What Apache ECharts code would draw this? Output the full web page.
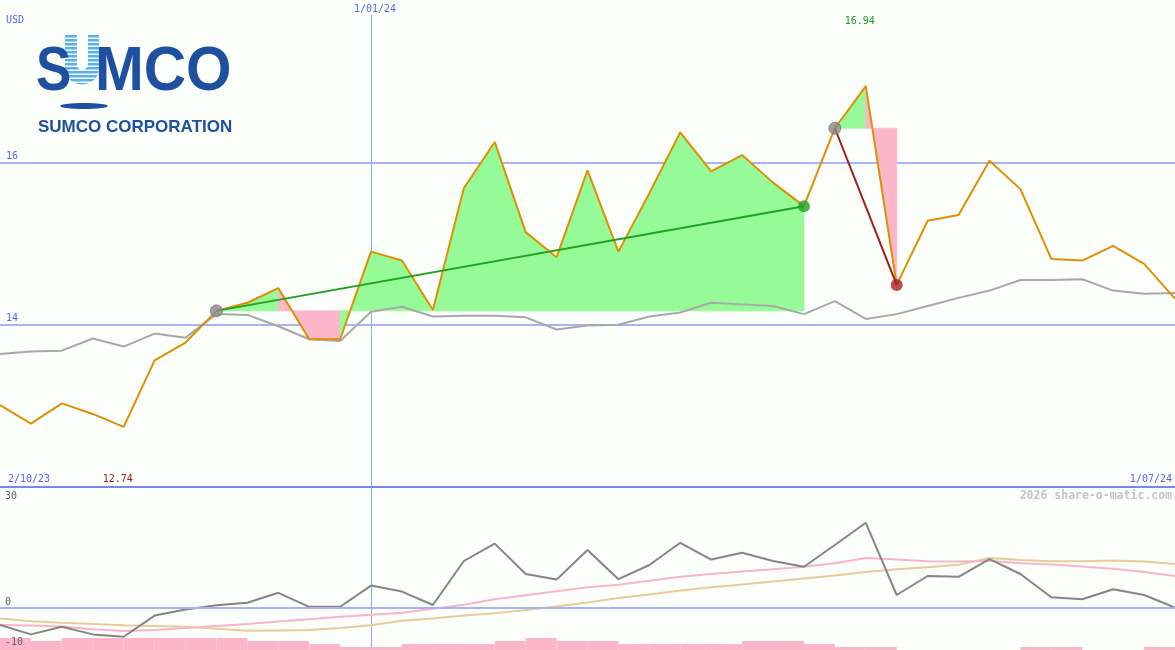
<!DOCTYPE html>
<html><head><meta charset="utf-8">
<script src="https://cdn.jsdelivr.net/npm/echarts@6/dist/echarts.min.js"></script>
<style>html,body{margin:0;padding:0;background:#fcfefc}#c{width:1175px;height:650px}</style>
</head><body><div id="c"></div>
<script>
// ---- data ----
const categories = ['9/10/23','16/10/23','23/10/23','30/10/23','6/11/23','13/11/23','20/11/23','27/11/23','4/12/23','11/12/23','18/12/23','25/12/23','1/01/24','8/01/24','15/01/24','22/01/24','29/01/24','5/02/24','12/02/24','19/02/24','26/02/24','4/03/24','11/03/24','18/03/24','25/03/24','1/04/24','8/04/24','15/04/24','22/04/24','29/04/24','6/05/24','13/05/24','20/05/24','27/05/24','3/06/24','10/06/24','17/06/24','24/06/24','1/07/24'];
const price = [13.01,12.78,13.03,12.90,12.74,13.56,13.78,14.17,14.27,14.45,13.82,13.82,14.90,14.79,14.18,15.68,16.25,15.14,14.83,15.90,14.90,15.62,16.37,15.89,16.09,15.75,15.46,16.42,16.94,14.49,15.28,15.35,16.02,15.67,14.81,14.79,14.97,14.75,14.32];
const benchmark = [13.64,13.67,13.68,13.83,13.73,13.89,13.84,14.13,14.12,13.98,13.82,13.80,14.16,14.22,14.10,14.11,14.11,14.09,13.94,13.99,14.00,14.10,14.15,14.27,14.25,14.23,14.13,14.29,14.07,14.13,14.23,14.33,14.42,14.55,14.55,14.56,14.42,14.38,14.39];
const momentum = [-4.25,-6.6,-4.7,-6.6,-7.2,-1.9,-0.4,0.7,1.3,3.8,0.3,0.3,5.6,4.1,0.75,11.75,16.1,8.5,7.1,14.5,7.2,10.75,16.3,12.1,13.8,11.75,10.3,15.75,21.3,3.25,8.0,7.8,12.2,8.5,2.7,2.2,4.7,3.25,0.1];
const avgFast = [-4.25,-4.4,-4.6,-5.3,-5.75,-5.5,-5.0,-4.5,-4.0,-3.4,-2.8,-2.2,-1.7,-1.2,-0.2,0.8,2.2,3.2,4.2,5.2,5.8,6.8,7.8,8.5,9.1,9.7,10.3,11.2,12.5,12.1,11.7,11.6,11.8,11.2,10.9,10.4,9.8,9.0,8.0];
const avgSlow = [-2.6,-3.3,-3.7,-4.0,-4.3,-4.5,-4.7,-5.2,-5.7,-5.6,-5.5,-5.0,-4.3,-3.2,-2.6,-1.9,-1.3,-0.5,0.4,1.4,2.5,3.4,4.4,5.2,5.9,6.6,7.4,8.1,9.0,9.7,10.2,10.8,12.5,12.0,11.7,11.7,11.9,11.6,11.0];
const volume = [4,3,4,4,4,4,4,4,3,3,2,1,1,2,2,2,3,4,3,3,2,2,2,2,3,3,2,1,1,0,0,0,0,1,1,0,0,1];
const tradeEntry = [7, 27];
const tradeExit = [26, 29];
const priceTicks = [14, 16];
const lowerTicks = [-10, 0, 30];
const markerDate = '1/01/24';
const startLabel = '2/10/23';
const endLabel = '1/07/24';

// ---- styles ----
const BLUE_TXT = '#5566ee';
const GRID_C = '#a6b3f4';
const FILL_G = '#96fa96';
const FILL_P = '#fbb6c9';
const NONE = 'rgba(0,0,0,0)';
const MONO = '"DejaVu Sans Mono", monospace';

const fillData = [];
tradeEntry.forEach((e, t) => {
  for (let i = e; i < tradeExit[t]; i++) fillData.push([i, price[i], price[i + 1], price[e]]);
});

const chart = echarts.init(document.getElementById('c'), null, {renderer: 'canvas'});

const series = [
  {
    type: 'custom', xAxisIndex: 0, yAxisIndex: 0, z: 1, silent: true,
    data: fillData, encode: {x: 0, y: [1, 2, 3]},
    renderItem: function (params, api) {
      const i = api.value(0), p0 = api.value(1), p1 = api.value(2), b = api.value(3);
      const pts = [api.coord([i, b]), api.coord([i, p0]), api.coord([i + 1, p1]), api.coord([i + 1, b])];
      const c = p1 >= b ? FILL_G : FILL_P;
      return {type: 'polygon', shape: {points: pts}, style: {fill: c, stroke: c, lineWidth: 0.8}};
    }
  },
  {
    type: 'line', xAxisIndex: 0, yAxisIndex: 0, z: 2, data: benchmark, showSymbol: false, silent: true,
    lineStyle: {color: '#a8a8a8', width: 2},
    markLine: {
      silent: true, symbol: ['none', 'none'], animation: false, label: {show: false},
      lineStyle: {color: '#7886ee', width: 2, type: 'solid'},
      data: [{yAxis: 12}]
    }
  },
  {
    type: 'line', xAxisIndex: 0, yAxisIndex: 0, z: 3, data: price, showSymbol: false, silent: true,
    lineStyle: {color: '#de9000', width: 2}
  }
];
tradeEntry.forEach((e, t) => {
  const x = tradeExit[t];
  const win = price[x] >= price[e];
  series.push({
    type: 'line', xAxisIndex: 0, yAxisIndex: 0, z: 4, silent: true, showSymbol: false,
    data: [[e, price[e]], [x, price[x]]],
    lineStyle: {color: win ? '#23a023' : '#a01c1c', width: 2}
  });
  series.push({
    type: 'scatter', xAxisIndex: 0, yAxisIndex: 0, z: 5, silent: true,
    data: [[e, price[e]]], symbolSize: 12, itemStyle: {color: '#8a8a8a', borderColor: '#777', borderWidth: 1}
  });
  series.push({
    type: 'scatter', xAxisIndex: 0, yAxisIndex: 0, z: 5, silent: true,
    data: [[x, price[x]]], symbolSize: 12, itemStyle: {color: win ? '#22a022' : '#b02020'}
  });
});
series.push(
  {
    type: 'bar', xAxisIndex: 2, yAxisIndex: 3, data: volume, barWidth: '100%', barCategoryGap: 0, silent: true,
    itemStyle: {color: FILL_P}, z: 1
  },
  {
    type: 'line', xAxisIndex: 1, yAxisIndex: 1, data: avgSlow, showSymbol: false, silent: true, z: 2,
    lineStyle: {color: '#e6cc9a', width: 2}
  },
  {
    type: 'line', xAxisIndex: 1, yAxisIndex: 1, data: avgFast, showSymbol: false, silent: true, z: 2,
    lineStyle: {color: '#f8b4c8', width: 2}
  },
  {
    type: 'line', xAxisIndex: 1, yAxisIndex: 1, data: momentum, showSymbol: false, silent: true, z: 3,
    lineStyle: {color: '#858585', width: 2}
  }
);

const option = {
  animation: false,
  backgroundColor: '#fcfefc',
  grid: [
    {left: 0, right: 0, top: -2, height: 489},
    {left: 0, right: 0, top: 488, height: 160},
    {left: 0, right: 0, top: 488, height: 162}
  ],
  xAxis: [
    {type: 'category', gridIndex: 0, data: categories, boundaryGap: false, show: false},
    {type: 'category', gridIndex: 1, data: categories, boundaryGap: false, show: false},
    {type: 'category', gridIndex: 2, data: categories.slice(0, volume.length), boundaryGap: true, show: false}
  ],
  yAxis: [
    {
      type: 'value', gridIndex: 0, min: 12, max: 18, interval: 2,
      axisLine: {show: false}, axisTick: {show: false},
      splitLine: {show: true, lineStyle: {color: [NONE, GRID_C, GRID_C, NONE], width: 2}},
      axisLabel: {
        inside: true, margin: 6, verticalAlign: 'bottom', color: BLUE_TXT,
        fontFamily: MONO, fontSize: 10, padding: [0, 0, 1, 0],
        formatter: v => priceTicks.includes(v) ? String(v) : ''
      }
    },
    {
      type: 'value', gridIndex: 1, min: -10, max: 30, interval: 10, z: 20,
      axisLine: {show: false}, axisTick: {show: false},
      splitLine: {show: true, lineStyle: {color: [NONE, GRID_C, NONE, NONE, NONE], width: 2}},
      axisLabel: {
        inside: true, margin: 5, verticalAlign: 'bottom', color: '#606060',
        fontFamily: MONO, fontSize: 10, padding: [0, 0, 1, 0],
        formatter: v => (lowerTicks.includes(v) && v !== 30) ? String(v) : ''
      }
    },
    {
      type: 'value', gridIndex: 1, min: -10, max: 30, interval: 10, position: 'left', z: 20,
      axisLine: {show: false}, axisTick: {show: false}, splitLine: {show: false},
      axisLabel: {
        inside: true, margin: 5, verticalAlign: 'top', color: '#606060',
        fontFamily: MONO, fontSize: 10, padding: [3, 0, 0, 0],
        formatter: v => v === 30 ? String(v) : ''
      }
    },
    {type: 'value', gridIndex: 2, min: 0, max: 54, show: false}
  ],
  series: series
};
chart.setOption(option);

// labels
let maxIdx = 0, minIdx = 0;
price.forEach((v, i) => { if (v > price[maxIdx]) maxIdx = i; if (v < price[minIdx]) minIdx = i; });
const xMax = chart.convertToPixel({xAxisIndex: 0}, categories[maxIdx]);
const xMin = chart.convertToPixel({xAxisIndex: 0}, categories[minIdx]);
const xMark = chart.convertToPixel({xAxisIndex: 0}, markerDate);
const sepY = chart.convertToPixel({yAxisIndex: 0}, 12);
const xLine = Math.round(xMark) + 0.5;

const txt = (x, y, text, fill, align) => ({
  type: 'text', silent: true, z: 100,
  style: {x: x, y: y, text: text, fill: fill, font: '10px ' + MONO, align: align || 'left', verticalAlign: 'middle'}
});

const LOGO = '#1f4f9f';
const stripes = [];
for (let k = 0; k < 13; k++) {
  stripes.push({type: 'rect', silent: true, z: 101, shape: {x: 62, y: 37.5 + k * 4, width: 40, height: 1.6}, style: {fill: '#fcfefc'}});
}
const uPoints = [[65,35],[77,35],[77,66],[79,69.5],[82,70.5],[85,69.5],[88,66],[88,35],[99,35],[99,68],[98,75],[94,80],[88,83.5],[82,84.5],[76,83.5],[70,80],[66,75],[65,68]];

chart.setOption({
  graphic: [
    {type: 'line', silent: true, z: 0, shape: {x1: xLine, y1: 15, x2: xLine, y2: 650}, style: {stroke: '#95a6f2', lineWidth: 1}},
    txt(6, 20, 'USD', BLUE_TXT),
    txt(xMark + 4, 9, markerDate, BLUE_TXT, 'center'),
    txt(xMax - 6, 21, price[maxIdx].toFixed(2), '#229922', 'center'),
    txt(8, sepY - 8, startLabel, BLUE_TXT),
    txt(xMin - 6, sepY - 8, price[minIdx].toFixed(2), '#a02020', 'center'),
    txt(1172, sepY - 8, endLabel, BLUE_TXT, 'right'),
    {type: 'text', silent: true, z: 100, style: {x: 1172, y: 496, text: '2026 share-o-matic.com', fill: '#c4c4c4', font: 'bold 11.5px ' + MONO, align: 'right', verticalAlign: 'middle'}},
    {type: 'polygon', silent: true, z: 100, shape: {points: uPoints}, style: {fill: '#55b2ea'}},
    ...stripes,
    {type: 'text', silent: true, z: 102, x: 36, scaleX: 0.84, style: {x: 0, y: 73, text: 'S', fill: LOGO, font: 'bold 63px "Liberation Sans"', verticalAlign: 'middle'}},
    {type: 'text', silent: true, z: 102, x: 95, scaleX: 0.93, style: {x: 0, y: 73, text: 'MCO', fill: LOGO, font: 'bold 63px "Liberation Sans"', verticalAlign: 'middle'}},
    {type: 'ellipse', silent: true, z: 102, shape: {cx: 84, cy: 106, rx: 24, ry: 3}, style: {fill: LOGO}},
    {type: 'text', silent: true, z: 102, style: {x: 38, y: 127, text: 'SUMCO CORPORATION', fill: LOGO, font: 'bold 17px "Liberation Sans"', verticalAlign: 'middle'}}
  ]
});
</script>
</body></html>
